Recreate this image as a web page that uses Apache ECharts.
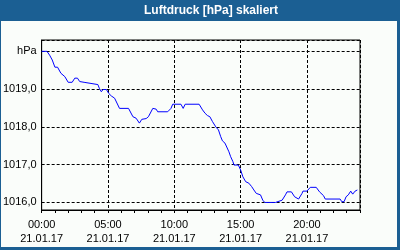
<!DOCTYPE html>
<html>
<head>
<meta charset="utf-8">
<script src="https://cdn.jsdelivr.net/npm/echarts@6/dist/echarts.min.js"></script>
<style>
html,body{margin:0;padding:0;background:#1B5F93;}
#c{width:400px;height:250px;}
</style>
</head>
<body>
<div id="c"></div>
<script>
var titleText = 'Luftdruck [hPa] skaliert';
var dateLabel = '21.01.17';
var unitLabel = 'hPa';
var xLabelHours = [0, 5, 10, 15, 20];
var yLabelValues = [1016, 1017, 1018, 1019, 1020];

var hours = [0, 0.40, 0.60, 0.80, 1.00, 1.20, 1.45, 1.60, 1.75, 1.85, 2.00, 2.30, 2.50, 2.70, 2.87, 3.20, 3.25, 4.24, 4.35, 4.50, 4.63, 4.88, 5.05, 5.25, 5.50, 5.87, 6.55, 6.88, 7.12, 7.37, 7.55, 7.88, 8.05, 8.38, 8.63, 8.75, 9.50, 9.75, 9.88, 10.50, 10.67, 10.82, 11.87, 12.13, 12.32, 12.50, 12.68, 12.88, 13.13, 13.33, 13.50, 13.63, 13.82, 14.12, 14.25, 14.42, 14.50, 14.83, 15.00, 15.17, 15.38, 15.62, 15.83, 16.00, 16.18, 16.50, 16.67, 16.82, 17.63, 17.75, 18.13, 18.38, 18.50, 18.83, 19.07, 19.20, 19.37, 19.63, 19.70, 20.00, 20.25, 20.70, 20.95, 21.25, 21.38, 22.50, 22.63, 22.80, 22.95, 23.12, 23.30, 23.45, 23.63, 23.80];
var pressure = [1020.0, 1020.0, 1019.90, 1019.77, 1019.58, 1019.58, 1019.42, 1019.39, 1019.33, 1019.29, 1019.18, 1019.18, 1019.29, 1019.29, 1019.20, 1019.18, 1019.13, 1019.12, 1019.02, 1018.93, 1018.99, 1018.99, 1018.89, 1018.82, 1018.76, 1018.49, 1018.49, 1018.27, 1018.23, 1018.10, 1018.20, 1018.22, 1018.27, 1018.49, 1018.47, 1018.40, 1018.40, 1018.49, 1018.60, 1018.60, 1018.49, 1018.60, 1018.60, 1018.45, 1018.36, 1018.30, 1018.27, 1018.14, 1018.00, 1017.92, 1017.74, 1017.63, 1017.57, 1017.34, 1017.21, 1017.08, 1016.99, 1016.99, 1016.86, 1016.68, 1016.55, 1016.51, 1016.42, 1016.33, 1016.24, 1016.20, 1016.06, 1016.00, 1016.00, 1016.05, 1016.06, 1016.20, 1016.28, 1016.28, 1016.15, 1016.11, 1016.09, 1016.24, 1016.30, 1016.30, 1016.40, 1016.40, 1016.28, 1016.18, 1016.09, 1016.09, 1016.02, 1016.02, 1016.15, 1016.20, 1016.30, 1016.22, 1016.30, 1016.33];

var data = hours.map(function (h, i) { return [h, pressure[i]]; });
var font = 'Liberation Sans, Arial, sans-serif';

function pad(n) { return (n < 10 ? '0' : '') + n; }

var chart = echarts.init(document.getElementById('c'), null, { renderer: 'canvas' });
chart.setOption({
  animation: false,
  backgroundColor: '#1B5F93',
  graphic: [
    { type: 'rect', z: -10, silent: true, shape: { x: 1, y: 21, width: 396, height: 226 }, style: { fill: '#FAFDFA' } },
    { type: 'text', z: 10, silent: true, x: 211, y: 10.5,
      style: { text: titleText, fill: '#ffffff', font: 'bold 12px ' + font, textAlign: 'center', textVerticalAlign: 'middle' } }
  ],
  grid: { left: 40, right: 40, top: 40, bottom: 40, show: true, borderColor: '#000', borderWidth: 1, backgroundColor: 'transparent' },
  xAxis: [
    {
      type: 'value', min: 0, max: 24, interval: 5, position: 'bottom',
      axisLine: { show: true, lineStyle: { color: '#000', width: 1 } },
      axisTick: { show: false },
      splitLine: { show: true, lineStyle: { color: '#000', type: [3, 2], width: 1 } },
      axisLabel: {
        show: true, color: '#000', fontFamily: font, fontSize: 11, margin: 8, lineHeight: 14,
        formatter: function (v) {
          if (xLabelHours.indexOf(v) >= 0) return pad(v) + ':00\n' + dateLabel;
          return '';
        }
      }
    },
    {
      type: 'value', min: 0, max: 24, interval: 1, position: 'bottom',
      axisLine: { show: false },
      axisTick: { show: true, length: 3, lineStyle: { color: '#000', width: 1 } },
      axisLabel: { show: false },
      splitLine: { show: false }
    }
  ],
  yAxis: {
    type: 'value', min: 1015.8, max: 1020.3, splitNumber: 5,
    axisLine: { show: true, lineStyle: { color: '#000', width: 1 } },
    axisTick: { show: false },
    splitLine: { show: true, lineStyle: { color: '#000', type: [3, 2], width: 1 } },
    axisLabel: {
      show: true, color: '#000', fontFamily: font, fontSize: 11, margin: 5,
      formatter: function (v) {
        var r = Math.round(v * 10) / 10;
        if (yLabelValues.indexOf(r) < 0) return '';
        if (r === 1020) return unitLabel;
        return r.toFixed(1).replace('.', ',');
      }
    }
  },
  series: [{
    type: 'line', xAxisIndex: 0, data: data, showSymbol: false, symbol: 'none',
    lineStyle: { color: '#0000ff', width: 1 }
  }]
});
</script>
</body>
</html>
